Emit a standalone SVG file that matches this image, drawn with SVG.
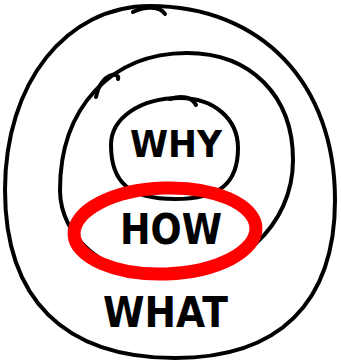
<svg xmlns="http://www.w3.org/2000/svg" width="341" height="361" viewBox="0 0 341 361">
<style>
.ink{fill:none;stroke:#000;stroke-width:4;stroke-linecap:round;stroke-linejoin:round}
.lbl{font-family:"DejaVu Sans","Liberation Sans",sans-serif;font-weight:bold;fill:#000}
.hl{fill:none;stroke:#ff0000;stroke-width:13}
</style>
<rect width="341" height="361" fill="#fff"/>
<g id="what">
<path class="ink" d="M150,6 C66,6 5,83 5,190 C5,299 64,358 175,358 C279,358 335,303 335,200 C335,83 261,6 150,6 Z"/>
<path class="ink" d="M133,12 C145,6 160,6 165,14"/>
<text class="lbl" x="103" y="327" font-size="42" textLength="125" lengthAdjust="spacingAndGlyphs">WHAT</text>
</g>
<g id="how">
<path class="ink" d="M187,53 C111,53 60,108 60,190 C60,238 107,277 165,277 C237,277 293,226 293,160 C293,96 251,53 187,53 Z"/>
<path class="ink" d="M96,97 C98,86 104,77 112,75 C116,74 119,76 118,79"/>
</g>
<g id="why">
<path class="ink" d="M180,98 C140,98 111,118 111,145 C111,183 130,199 175,199 C219,199 238,184 238,148 C238,119 214,98 180,98 Z"/>
<path class="ink" d="M170,99 C182,95 192,97 196,105"/>
<text class="lbl" x="130" y="157" font-size="38" textLength="92" lengthAdjust="spacingAndGlyphs">WHY</text>
</g>
<g id="how-label">
<text class="lbl" x="120" y="244" font-size="42" textLength="102" lengthAdjust="spacingAndGlyphs">HOW</text>
</g>
<g id="highlight">
<ellipse class="hl" cx="165" cy="231" rx="91" ry="43" transform="rotate(-2 165 231)"/>
</g>
<g id="connectors"/>
</svg>
